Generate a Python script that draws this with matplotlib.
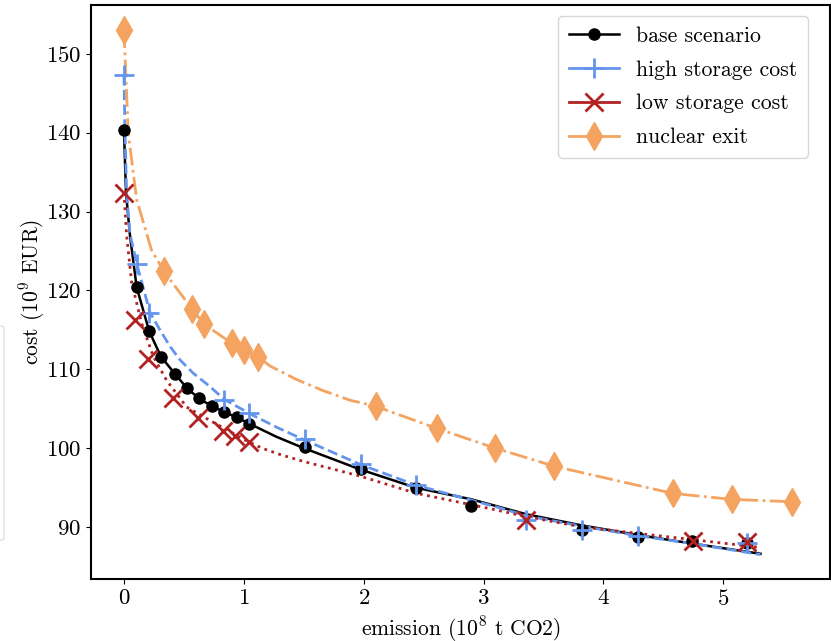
import matplotlib
matplotlib.use("Agg")
import matplotlib.pyplot as plt
from matplotlib.patches import FancyBboxPatch

plt.rcParams['font.family'] = ['cmr10', 'DejaVu Sans']
plt.rcParams['mathtext.fontset'] = 'cm'
plt.rcParams['axes.formatter.use_mathtext'] = True
plt.rcParams['font.size'] = 15.5

# model runs (markers)
base_x = [0, 0.106, 0.211, 0.309, 0.426, 0.526, 0.626, 0.735, 0.835, 0.94, 1.046,
          1.511, 1.976, 2.437, 2.897, 3.82, 4.29, 4.74, 5.2]
base_y = [140.4, 120.4, 114.8, 111.6, 109.4, 107.6, 106.3, 105.3, 104.6, 103.9, 103.1,
          100.2, 97.4, 95.0, 92.7, 89.6, 88.75, 88.2, 88.0]

high_x = [0, 0.106, 0.211, 0.835, 1.046, 1.511, 1.976, 2.437, 3.356, 3.82, 4.29, 5.2]
high_y = [147.3, 123.4, 117.1, 106.1, 104.4, 101.1, 98.0, 95.3, 90.9, 89.6, 88.8, 88.0]

low_x = [0, 0.092, 0.203, 0.41, 0.62, 0.83, 0.93, 1.04, 3.356, 4.75, 5.2]
low_y = [132.4, 116.2, 111.25, 106.3, 103.8, 102.2, 101.5, 100.8, 90.9, 88.2, 88.1]

nuc_x = [0, 0.334, 0.565, 0.67, 0.9, 1.0, 1.116, 2.1, 2.61, 3.097, 3.59, 4.58, 5.07, 5.57]
nuc_y = [153.0, 122.4, 117.7, 115.7, 113.3, 112.5, 111.6, 105.3, 102.5, 100.0, 97.7,
         94.25, 93.5, 93.2]

# fitted frontiers (lines)
base_fit_x = [0, 0.017, 0.05, 0.106, 0.211, 0.309, 0.426, 0.526, 0.626, 0.735, 0.835,
              0.94, 1.046, 1.27, 1.5, 1.97, 2.43, 2.9, 3.36, 3.82, 4.28, 4.74, 5.31]
base_fit_y = [140.4, 132.4, 127.0, 120.4, 114.8, 111.6, 109.4, 107.6, 106.3, 105.3, 104.6,
              103.9, 103.1, 101.45, 100.0, 97.3, 95.0, 93.5, 91.6, 90.2, 89.0, 87.9, 86.6]

high_fit_x = [0, 0.008, 0.022, 0.05, 0.106, 0.217, 0.30, 0.384, 0.467, 0.578, 0.718,
              0.835, 1.046, 1.28, 1.511, 1.976, 2.437, 3.14, 3.36, 3.82, 4.28, 4.74, 5.31]
high_fit_y = [147.3, 140.4, 132.4, 127.2, 123.4, 117.2, 115.0, 112.9, 111.2, 109.5, 107.8,
              106.2, 104.4, 102.6, 101.0, 97.9, 95.3, 92.4, 91.4, 90.1, 88.9, 87.9, 86.5]

low_fit_x = [0, 0.022, 0.064, 0.148, 0.245, 0.356, 0.523, 0.718, 0.85, 1.0, 1.15, 1.3,
             1.5, 1.97, 2.43, 3.06, 3.36, 3.82, 4.28, 4.74, 5.31]
low_fit_y = [132.4, 127.0, 121.0, 115.8, 111.6, 108.6, 105.2, 103.5, 102.4, 101.1, 100.0,
             99.2, 98.3, 96.45, 94.3, 92.3, 91.3, 90.0, 89.2, 88.4, 87.4]

nuc_fit_x = [0, 0.036, 0.106, 0.23, 0.334, 0.565, 0.67, 0.9, 1.0, 1.116, 1.22, 1.44,
             1.66, 1.88, 2.1, 2.61, 3.097, 3.59, 4.58, 5.07, 5.57]
nuc_fit_y = [153.0, 139.9, 131.5, 125.1, 122.4, 117.7, 115.7, 113.3, 112.5, 111.6, 110.4,
             108.7, 107.3, 106.1, 105.3, 102.5, 100.0, 97.7, 94.25, 93.5, 93.2]

labels = ['base scenario', 'high storage cost', 'low storage cost', 'nuclear exit']

fig = plt.figure(figsize=(8.31, 6.41), dpi=100)
ax = fig.add_axes([91 / 831, 1 - 579 / 641, 739 / 831, 574 / 641])

# lines
ax.plot(base_fit_x, base_fit_y, color='black', lw=1.8, ls='-')
ax.plot(high_fit_x, high_fit_y, color='cornflowerblue', lw=2, ls='--')
ax.plot(low_fit_x, low_fit_y, color='firebrick', lw=2, ls=':')
ax.plot(nuc_fit_x, nuc_fit_y, color='sandybrown', lw=2, ls='-.')

# markers
ax.plot(base_x, base_y, ls='none', marker='o', ms=8, color='black')
ax.plot(high_x, high_y, ls='none', marker='+', ms=14, mew=2, color='cornflowerblue')
ax.plot(low_x, low_y, ls='none', marker='x', ms=13, mew=2, color='firebrick')
ax.plot(nuc_x, nuc_y, ls='none', marker='d', ms=14, color='sandybrown')

# legend proxies
h1, = ax.plot([], [], color='black', lw=1.8, marker='o', ms=8)
h2, = ax.plot([], [], color='cornflowerblue', lw=2, marker='+', ms=14, mew=2)
h3, = ax.plot([], [], color='firebrick', lw=2, marker='x', ms=13, mew=2)
h4, = ax.plot([], [], color='sandybrown', lw=2, marker='d', ms=14)
ax.legend([h1, h2, h3, h4], labels, loc='upper right',
          bbox_to_anchor=(0.970, 0.981), borderaxespad=0, fontsize=15.7,
          labelspacing=0.66, borderpad=0.47, handlelength=2.3, handletextpad=0.8)

ax.set_xlim(-0.275, 5.89)
ax.set_ylim(83.4, 156.2)
ax.set_xticks([0, 1, 2, 3, 4, 5])
ax.set_yticks([90, 100, 110, 120, 130, 140, 150])
ax.tick_params(labelsize=16.5)
ax.set_xlabel('emission ($10^8$ t CO2)', fontsize=15.5)
ax.set_ylabel('cost ($10^9$ EUR)', fontsize=15.5)
ax.xaxis.set_label_coords(0.5, -(614 - 579) / 574)
ax.yaxis.set_label_coords(-(91 - 47) / 739, 0.5)
for s in ax.spines.values():
    s.set_linewidth(1.5)

# faint clipped frame at the left edge
fig.patches.append(FancyBboxPatch((-0.2, 1 - 540 / 641), 0.2 + 4 / 831, 214 / 641,
                                  boxstyle='round,pad=0,rounding_size=0.004',
                                  transform=fig.transFigure, facecolor='white',
                                  edgecolor='#e0e0e0', lw=1, figure=fig))

fig.savefig('out.png', dpi=100)
